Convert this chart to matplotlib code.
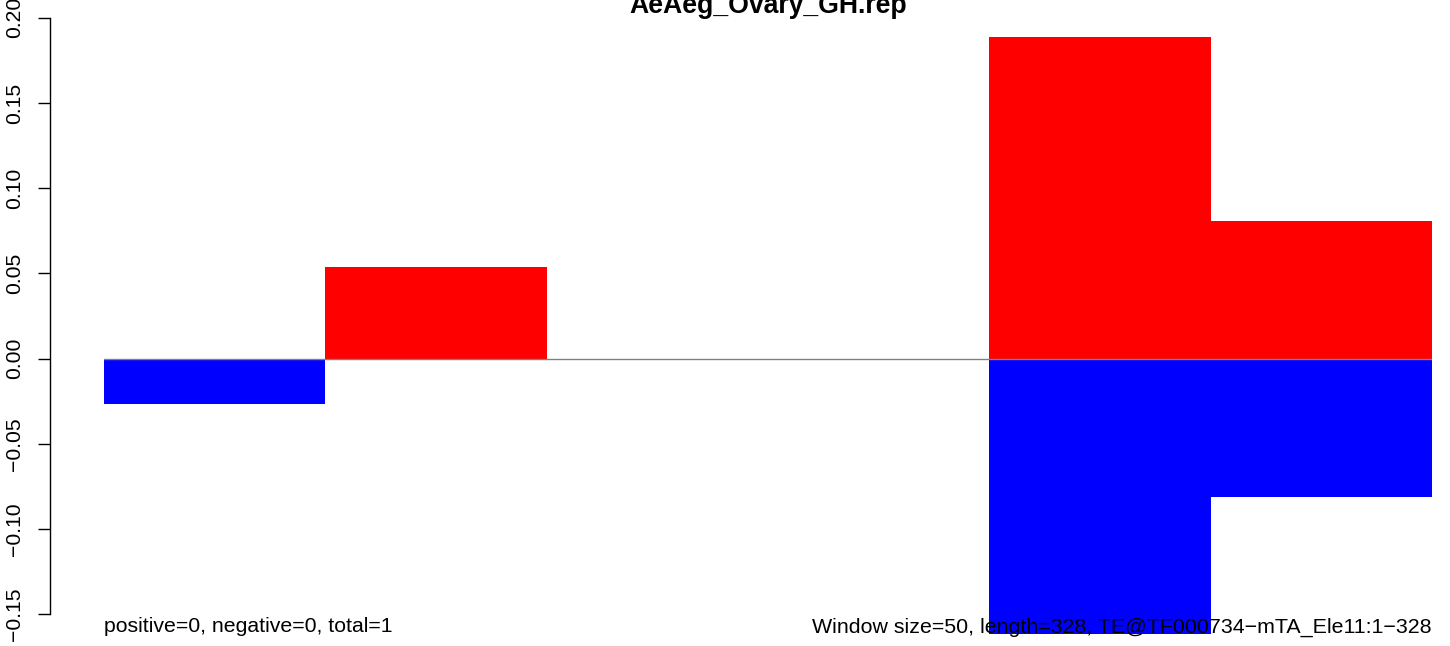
import numpy as np
import matplotlib
matplotlib.use("Agg")
import matplotlib.pyplot as plt

plt.rcParams['font.family'] = ['Liberation Sans', 'DejaVu Sans']

title = "AeAeg_Ovary_GH.rep"
left_note = "positive=0, negative=0, total=1"
right_note = "Window size=50, length=328, TE@TF000734\u2212mTA_Ele11:1\u2212328"

# one bar per window
windows = np.arange(6)
pos_vals = [0.0, 0.0537, 0.0, 0.0, 0.1887, 0.0809]
neg_vals = [-0.0267, 0.0, 0.0, 0.0, -0.1616, -0.0809]
yticks = [-0.15, -0.10, -0.05, 0.00, 0.05, 0.10, 0.15, 0.20]

W, H = 1450, 646
fig = plt.figure(figsize=(W / 100, H / 100), dpi=100)
ax = fig.add_axes([104 / W, 0, (1432 - 104) / W, 1])

ax.bar(windows, pos_vals, width=1.0, align='edge', color='#ff0000', linewidth=0, zorder=2)
ax.bar(windows, neg_vals, width=1.0, align='edge', color='#0000ff', linewidth=0, zorder=2)
ax.axhline(0, color='#808080', linewidth=1.0, zorder=3)

ax.set_xlim(0, len(windows))
ax.set_ylim(-0.1685, 0.2104)

for s in ['top', 'right', 'bottom']:
    ax.spines[s].set_visible(False)
ax.spines['left'].set_position(('outward', 54 * 0.72))
ax.spines['left'].set_bounds(yticks[0], yticks[-1])
ax.spines['left'].set_linewidth(1.0)
ax.set_xticks([])
ax.set_yticks(yticks)
ax.set_yticklabels([f"{v:.2f}".replace('-', '\u2212') for v in yticks],
                   rotation=90, va='center', fontsize=15.2)
ax.tick_params(axis='y', length=12 * 0.72, width=1.0, pad=10)

fig.text((104 + 1432) / 2 / W, 1 - 13 / H, title, ha='center', va='baseline',
         fontsize=19.2, fontweight='bold')
ax.text(0, 1 - 627 / H, left_note, transform=ax.transAxes, ha='left', va='center',
        fontsize=15.3, zorder=5)
ax.text(1, 1 - 627 / H, right_note, transform=ax.transAxes, ha='right', va='center',
        fontsize=15.4, zorder=5)

fig.savefig("out.png", dpi=100)
